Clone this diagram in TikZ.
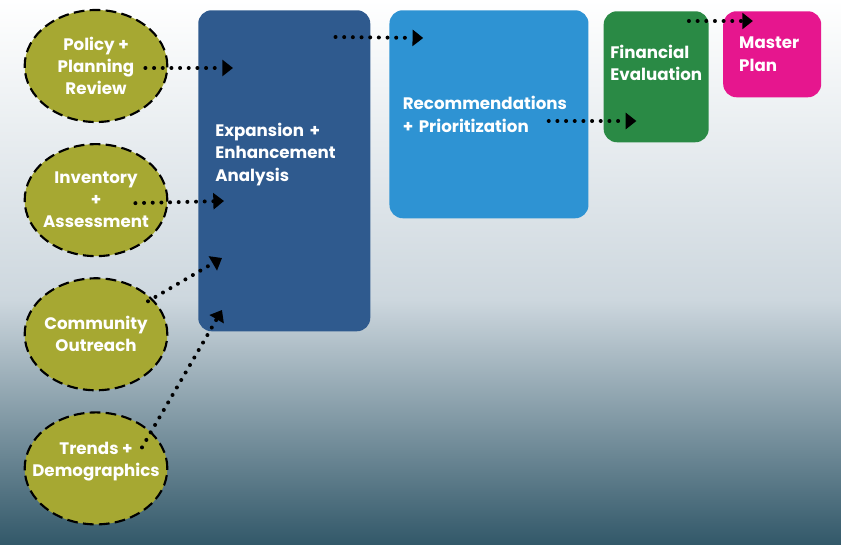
\documentclass[tikz,border=0pt]{standalone}
\usepackage{fontspec}
\setmainfont{Poppins}
\usepackage{tikz}
\usetikzlibrary{calc, positioning, arrows.meta, shapes.geometric}

\definecolor{olive}{RGB}{166,168,50}
\definecolor{expblue}{RGB}{47,90,142}
\definecolor{recblue}{RGB}{46,147,211}
\definecolor{fingreen}{RGB}{42,138,69}
\definecolor{planpink}{RGB}{230,22,142}
\definecolor{bgmid}{RGB}{205,215,222}
\definecolor{bgbottom}{RGB}{50,88,105}

\tikzset{
    source/.style={ellipse, fill=olive, draw=black, line width=1.6pt, dash pattern=on 8pt off 4pt,
        minimum width=107pt, minimum height=84pt, inner sep=0pt},
    srctext/.style={align=center, text=white, font=\bfseries\fontsize{12.5}{16.5}\selectfont},
    stage/.style={rectangle, rounded corners=10pt, inner sep=0pt, align=left,
        text=white, font=\bfseries\fontsize{12.5}{17}\selectfont},
    flow/.style={line width=3pt, line cap=round, dash pattern=on 0pt off 6.5pt,
        -{Triangle[length=8pt, width=12pt]}}
}

\begin{document}
\begin{tikzpicture}[x=0.75pt, y=-0.75pt]
        % background
        \shade[top color=white, bottom color=bgmid] (0,0) rectangle (841,300);
        \shade[top color=bgmid, bottom color=bgbottom] (0,299.5) rectangle (841,545);
        \useasboundingbox (0,0) rectangle (841,545);

        % inputs
        \node[source, label={[srctext]center:Policy +\\Planning\\Review}](policy) at (96,66){};
        \node[source, label={[srctext]center:Inventory\\+\\Assessment}](inventory)[below = 15pt of policy]{};
        \node[source, label={[srctext]center:Community\\Outreach}](outreach)[below = 15pt of inventory]{};
        \node[source, label={[srctext, yshift=5pt]center:Trends +\\Demographics}](trends)[below = 15pt of outreach]{};

        % stages
        \node[stage, fill=expblue, minimum width=129pt, minimum height=240.75pt, text width=103.5pt](expansion)
            at (198,10)[anchor=north west]{Expansion +\\Enhancement\\Analysis\\[11pt]\mbox{}};
        \node[stage, fill=recblue, minimum width=149.25pt, minimum height=156pt, text width=129.25pt](recs)
            [right = 14pt of expansion.north east, anchor=north west]{Recommendations\\+ Prioritization};
        \node[stage, fill=fingreen, minimum width=78.75pt, minimum height=98.25pt, text width=68.75pt](finance)
            [right = 11pt of recs.north east, anchor=north west, yshift=-0.75pt]{Financial\\Evaluation\\[4pt]\mbox{}};
        \node[stage, fill=planpink, minimum width=73.5pt, minimum height=64.5pt, text width=49.5pt](plan)
            [right = 10.5pt of finance.north east, anchor=north west]{Master\\Plan};

        % flows
        \draw[flow] ($(policy.east)+(-23,2)$) -- ($(expansion.north west)+(35,58)$);
        \draw[flow] ($(inventory.east)+(-33,3)$) -- ($(expansion.north west)+(26,191)$);
        \draw[flow] ($(outreach.center)+(52,-33)$) -- ($(expansion.north west)+(24,248)$);
        \draw[flow] ($(trends.center)+(46,-21)$) -- ($(expansion.north west)+(24,300)$);
        \draw[flow] ($(expansion.north east)+(-35,27)$) -- ($(recs.north west)+(34,28)$);
        \draw[flow] ($(recs.north east)+(-40,111)$) -- ($(finance.north west)+(33,110)$);
        \draw[flow] ($(finance.north east)+(-20,10)$) -- ($(plan.north west)+(30,10)$);
    \end{tikzpicture}
\end{document}
